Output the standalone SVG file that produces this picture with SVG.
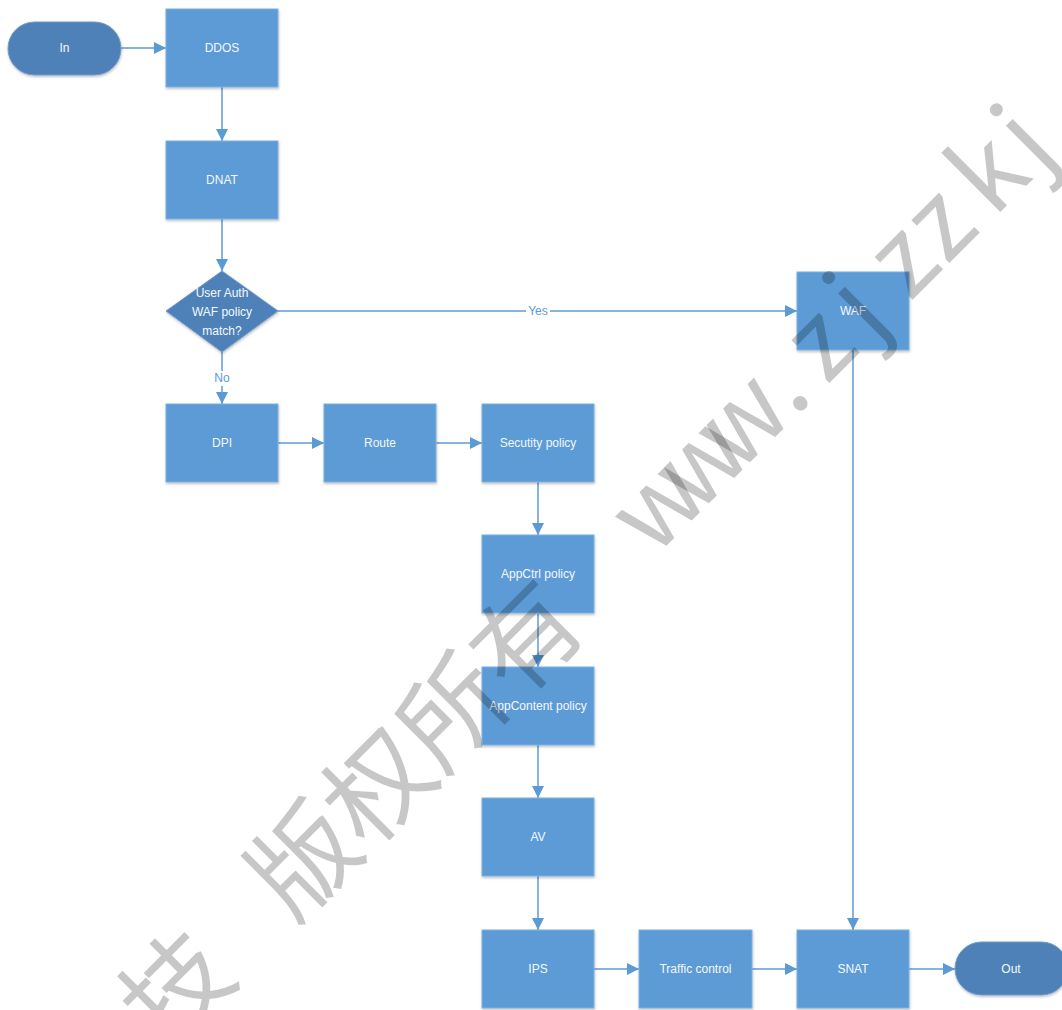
<svg xmlns="http://www.w3.org/2000/svg" width="1062" height="1010" viewBox="0 0 1062 1010">
<defs>
<style>
.box{fill:#5b9bd5;stroke:#7eb0df;stroke-width:1;filter:url(#sh)}
.term{fill:#4f81b9;stroke:#6f9bcb;stroke-width:1;filter:url(#sh)}
.lbl{font-family:"Liberation Sans",Arial,sans-serif;font-size:12px;fill:#f4f8fc;text-anchor:middle;dominant-baseline:central}
.edge{fill:none;stroke:#5b9bd5;stroke-width:1.5;marker-end:url(#ah)}
.elbl{font-family:"Liberation Sans",Arial,sans-serif;font-size:12px;fill:#5b9bd5;text-anchor:middle;dominant-baseline:central}
.wm{font-family:"Noto Sans CJK SC","Noto Sans",sans-serif;font-size:105px;font-weight:400;fill:#000;fill-opacity:0.22}
.wml{text-anchor:middle}
</style>
<filter id="sh" x="-10%" y="-10%" width="125%" height="130%">
<feDropShadow dx="0.5" dy="1.5" stdDeviation="1.2" flood-color="#000" flood-opacity="0.25"/>
</filter>
<marker id="ah" viewBox="0 0 12 12" refX="12" refY="6" markerWidth="12" markerHeight="12" markerUnits="userSpaceOnUse" orient="auto">
<path d="M0,0 L12,6 L0,12 Z" fill="#5b9bd5"/>
</marker>
</defs>
<rect width="1062" height="1010" fill="#fff"/>

<g id="connectors">
<path class="edge" d="M121,48 H166"/>
<path class="edge" d="M222,87 V141"/>
<path class="edge" d="M222,219 V271"/>
<path class="edge" d="M278,311 H797"/>
<rect x="526" y="303" width="24" height="16" fill="#fff"/>
<text class="elbl" x="538" y="311">Yes</text>
<path class="edge" d="M222,352 V404"/>
<rect x="212" y="371" width="20" height="15" fill="#fff"/>
<text class="elbl" x="222" y="378">No</text>
<path class="edge" d="M278,443 H324"/>
<path class="edge" d="M436,443 H482"/>
<path class="edge" d="M538,482 V535"/>
<path class="edge" d="M538,613 V667"/>
<path class="edge" d="M538,745 V798"/>
<path class="edge" d="M538,876 V930"/>
<path class="edge" d="M594,969 H639"/>
<path class="edge" d="M752,969 H797"/>
<path class="edge" d="M853,350 V930"/>
<path class="edge" d="M909,969 H955"/>
</g>

<g id="node-in"><rect class="term" x="8" y="22" width="113" height="53" rx="26.5"/><text class="lbl" x="64.5" y="48">In</text></g>
<g id="node-ddos"><rect class="box" x="166" y="9" width="112" height="78"/><text class="lbl" x="222" y="48">DDOS</text></g>
<g id="node-dnat"><rect class="box" x="166" y="141" width="112" height="78"/><text class="lbl" x="222" y="180">DNAT</text></g>
<g id="node-decision"><path class="term" d="M222,271 L278,311 L222,352 L166,311 Z"/>
<text class="lbl" x="222" y="293">User Auth</text><text class="lbl" x="222" y="312">WAF policy</text><text class="lbl" x="222" y="331">match?</text></g>
<g id="node-waf"><rect class="box" x="797" y="272" width="112" height="78"/><text class="lbl" x="853" y="311">WAF</text></g>
<g id="node-dpi"><rect class="box" x="166" y="404" width="112" height="78"/><text class="lbl" x="222" y="443">DPI</text></g>
<g id="node-route"><rect class="box" x="324" y="404" width="112" height="78"/><text class="lbl" x="380" y="443">Route</text></g>
<g id="node-secpolicy"><rect class="box" x="482" y="404" width="112" height="78"/><text class="lbl" x="538" y="443">Secutity policy</text></g>
<g id="node-appctrl"><rect class="box" x="482" y="535" width="112" height="78"/><text class="lbl" x="538" y="574">AppCtrl policy</text></g>
<g id="node-appcontent"><rect class="box" x="482" y="667" width="112" height="78"/><text class="lbl" x="538" y="706">AppContent policy</text></g>
<g id="node-av"><rect class="box" x="482" y="798" width="112" height="78"/><text class="lbl" x="538" y="837">AV</text></g>
<g id="node-ips"><rect class="box" x="482" y="930" width="112" height="78"/><text class="lbl" x="538" y="969">IPS</text></g>
<g id="node-traffic"><rect class="box" x="639" y="930" width="113" height="78"/><text class="lbl" x="695.5" y="969">Traffic control</text></g>
<g id="node-snat"><rect class="box" x="797" y="930" width="112" height="78"/><text class="lbl" x="853" y="969">SNAT</text></g>
<g id="node-out"><rect class="term" x="955" y="942" width="113" height="53" rx="26.5"/><text class="lbl" x="1011" y="969">Out</text></g>

<g id="watermark" transform="translate(0,1150) rotate(-45)">
<text class="wm" y="48"><tspan x="68">科</tspan><tspan x="187">技</tspan><tspan x="367">版权所有</tspan></text>
<text class="wm wml" y="44" x="922 982 1040 1094 1150 1203 1268 1320 1390 1440">www.zjzzkj</text>
</g>
</svg>
